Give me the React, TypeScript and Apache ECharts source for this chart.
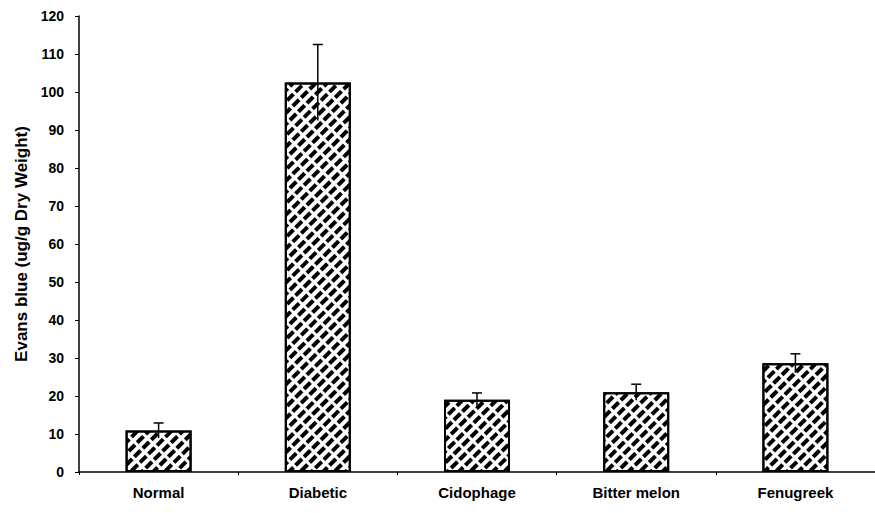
import React, { useEffect, useRef } from "react";
import * as echarts from "echarts";

const categories = ["Normal", "Diabetic", "Cidophage", "Bitter melon", "Fenugreek"];
const means = [10.9, 102.5, 19.0, 21.0, 28.6];
const sds = [2.0, 10.0, 1.8, 2.1, 2.5];
const yTicks = { min: 0, max: 120, interval: 10 };
const yTitle = "Evans blue (ug/g Dry Weight)";

export default function App() {
  const ref = useRef<HTMLDivElement>(null);
  useEffect(() => {
    if (!ref.current) return;
    const chart = echarts.init(ref.current, null, { renderer: "svg" });
    const font = "'Liberation Sans', Arial, sans-serif";
    chart.setOption({
      animation: false,
      aria: { enabled: true, decal: { show: true } },
      backgroundColor: "#fff",
      grid: { left: 79, right: -7, top: 16, bottom: 41 },
      xAxis: {
        type: "category",
        data: categories,
        axisLine: { lineStyle: { color: "#000", width: 1.5 } },
        axisTick: { show: true, length: 3, lineStyle: { color: "#000" } },
        axisLabel: {
          color: "#000",
          fontFamily: font,
          fontWeight: "bold",
          fontSize: 15,
          margin: 13,
        },
      },
      yAxis: {
        type: "value",
        min: yTicks.min,
        max: yTicks.max,
        interval: yTicks.interval,
        splitLine: { show: false },
        name: yTitle,
        nameLocation: "middle",
        nameGap: 48,
        nameTextStyle: {
          color: "#000",
          fontFamily: font,
          fontWeight: "bold",
          fontSize: 17,
        },
        axisLine: { show: true, lineStyle: { color: "#000", width: 1.5 } },
        axisTick: { show: true, length: 4, lineStyle: { color: "#000" } },
        axisLabel: {
          color: "#000",
          fontFamily: font,
          fontWeight: "bold",
          fontSize: 14,
          margin: 15,
        },
      },
      series: [
        {
          type: "bar",
          data: means,
          barWidth: 66,
          itemStyle: {
            color: "#fff",
            borderColor: "#000",
            borderWidth: 2,
            decal: {
              symbol: "rect",
              symbolSize: 1,
              color: "#000",
              backgroundColor: "#fff",
              dashArrayX: [9, 3],
              dashArrayY: [4, 4],
              rotation: -Math.PI / 4,
            },
          },
        },
        {
          type: "custom",
          z: 5,
          data: means.map((m, i) => [i, m, sds[i]]),
          encode: { x: 0, y: 1 },
          renderItem: (params: any, api: any) => {
            const x = api.value(0);
            const m = api.value(1);
            const s = api.value(2);
            const hi = api.coord([x, m + s]);
            const lo = api.coord([x, m - s]);
            const st = { stroke: "#000", lineWidth: 1.5 };
            return {
              type: "group",
              children: [
                { type: "line", shape: { x1: hi[0], y1: hi[1], x2: lo[0], y2: lo[1] }, style: st },
                { type: "line", shape: { x1: hi[0] - 5, y1: hi[1], x2: hi[0] + 5, y2: hi[1] }, style: st },
              ],
            };
          },
        },
      ],
    });
    return () => chart.dispose();
  }, []);
  return <div ref={ref} style={{ width: 875, height: 513, position: "absolute", left: 0, top: 0 }} />;
}
